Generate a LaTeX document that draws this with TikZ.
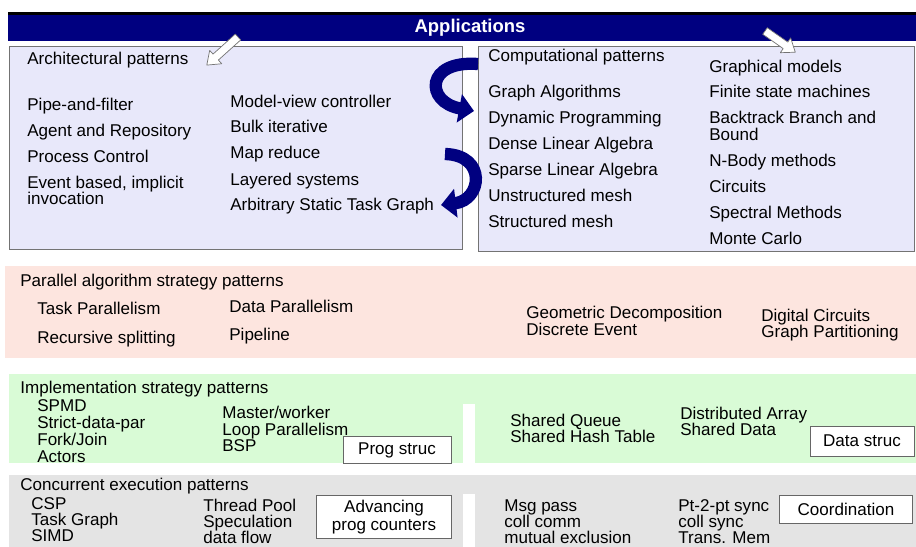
\documentclass[tikz,border=0pt]{standalone}
\usepackage{fontspec}
\setmainfont{Liberation Sans}
\usetikzlibrary{arrows.meta}

\definecolor{navybar}{RGB}{0,0,128}
\definecolor{lavbox}{RGB}{232,232,250}
\definecolor{pinkband}{RGB}{253,229,223}
\definecolor{greenband}{RGB}{217,251,214}
\definecolor{greyband}{RGB}{228,228,228}

\begin{document}
\begin{tikzpicture}
  [x=0.02cm,y=-0.02cm,
   item/.style={anchor=base west,inner sep=0pt,font=\fontsize{9.7}{11}\selectfont},
   tag/.style={draw=black!60,fill=white,inner sep=0pt,align=center,font=\fontsize{9.7}{11}\selectfont},
   panel/.style={draw=black!55,fill=lavbox},
   curl/.style={draw=navybar,line width=7pt,-{Triangle[length=8.5pt,width=16pt]}},
   blockarrow/.style={draw=black!55,fill=white,line join=round}]
  \useasboundingbox (0,0) rectangle (916,547);

  \fill[black] (8,12) rectangle (916,15);
  \fill[navybar] (8,15) rectangle (916,41);
  \node[text=white,font=\bfseries\fontsize{10.5}{12}\selectfont] (app) at (470,28) {Applications};

  \draw[panel] (9,46) rectangle (462,249);
  \draw[panel] (478,46) rectangle (914,251);

  \begin{scope}[shift={(238,37)},rotate=222]
    \draw[blockarrow] (0,-4) -- (30,-4) -- (30,-9) -- (42,0) -- (30,9) -- (30,4) -- (0,4) -- cycle;
  \end{scope}
  \begin{scope}[shift={(765,31)},rotate=-35]
    \draw[blockarrow] (0,-4) -- (25,-4) -- (25,-9) -- (37,0) -- (25,9) -- (25,4) -- (0,4) -- cycle;
  \end{scope}

  \node[item] (arch) at (27,65) {Architectural patterns};
  \node[item] (pf) at (27,111) {Pipe-and-filter};
  \node[item] (ar) at (27,137) {Agent and Repository};
  \node[item] (pc) at (27,163) {Process Control};
  \node[item] (eb) at (27,189) {Event based, implicit};
  \node[item] (ebi) at (27,205) {invocation};
  \node[item] (mvc) at (230,108) {Model-view controller};
  \node[item] (bi) at (230,133) {Bulk iterative};
  \node[item] (mr) at (230,159) {Map reduce};
  \node[item] (ls) at (230,186) {Layered systems};
  \node[item] (ast) at (230,211) {Arbitrary Static Task Graph};

  \node[item] (comp) at (488,62) {Computational patterns};
  \node[item] (ga) at (488,98) {Graph Algorithms};
  \node[item] (dp) at (488,124) {Dynamic Programming};
  \node[item] (dla) at (488,150) {Dense Linear Algebra};
  \node[item] (sla) at (488,176) {Sparse Linear Algebra};
  \node[item] (um) at (488,202) {Unstructured mesh};
  \node[item] (sm) at (488,228) {Structured mesh};
  \node[item] (gm) at (709,73) {Graphical models};
  \node[item] (fsm) at (709,98) {Finite state machines};
  \node[item] (bb) at (709,124) {Backtrack Branch and};
  \node[item] (bbb) at (709,141) {Bound};
  \node[item] (nb) at (709,167) {N-Body methods};
  \node[item] (circ) at (709,193) {Circuits};
  \node[item] (spm) at (709,219) {Spectral Methods};
  \node[item] (mc) at (709,245) {Monte Carlo};

  \coordinate (c1s) at (478,64);
  \coordinate (c1e) at (474,111);
  \coordinate (c2s) at (445,154);
  \coordinate (c2e) at (441,205);
  \draw[curl] (c1s) .. controls (425,60) and (425,102) .. (c1e);
  \draw[curl] (c2s) .. controls (487,155) and (482,200) .. (c2e);

  \fill[pinkband] (5,266) rectangle (916,358);
  \node[item] (pas) at (20,286) {Parallel algorithm strategy patterns};
  \node[item] (tpar) at (37,315) {Task Parallelism};
  \node[item] (rs) at (37,343) {Recursive splitting};
  \node[item] (dpar) at (229,312) {Data Parallelism};
  \node[item] (pipe) at (229,340) {Pipeline};
  \node[item] (gd) at (526,318) {Geometric Decomposition};
  \node[item] (de) at (526,335) {Discrete Event};
  \node[item] (dc) at (761,321) {Digital Circuits};
  \node[item] (gp) at (761,337) {Graph Partitioning};

  \fill[greenband] (9,374) rectangle (916,463);
  \fill[white] (463,404) rectangle (475,463);
  \node[item] (isp) at (20,393) {Implementation strategy patterns};
  \node[item] (spmd) at (37,411) {SPMD};
  \node[item] (sdp) at (37,428) {Strict-data-par};
  \node[item] (fj) at (37,445) {Fork/Join};
  \node[item] (act) at (37,462) {Actors};
  \node[item] (mw) at (222,418) {Master/worker};
  \node[item] (lp) at (222,435) {Loop Parallelism};
  \node[item] (bsp) at (222,451) {BSP};
  \node[tag,minimum width=2.16cm,minimum height=0.54cm] (prog) at (397,450) {Prog struc};
  \node[item] (sq) at (510,426) {Shared Queue};
  \node[item] (sht) at (510,442) {Shared Hash Table};
  \node[item] (da) at (680,419) {Distributed Array};
  \node[item] (sd) at (680,435) {Shared Data};
  \node[tag,minimum width=2.08cm,minimum height=0.6cm] (data) at (862,441) {Data struc};

  \fill[greyband] (9,475) rectangle (916,547);
  \fill[white] (463,494) rectangle (475,547);
  \node[item] (cep) at (20,490) {Concurrent execution patterns};
  \node[item] (csp) at (31,509) {CSP};
  \node[item] (tg) at (31,525) {Task Graph};
  \node[item] (simd) at (31,541) {SIMD};
  \node[item] (tpool) at (203,511) {Thread Pool};
  \node[item] (spec) at (203,527) {Speculation};
  \node[item] (df) at (203,543) {data flow};
  \node[tag,minimum width=2.7cm,minimum height=0.86cm,font=\fontsize{9.7}{10}\selectfont] (adv) at (384,517) {Advancing\\prog counters};
  \node[item] (msg) at (504,511) {Msg pass};
  \node[item] (cc) at (504,527) {coll comm};
  \node[item] (mutex) at (504,543) {mutual exclusion};
  \node[item] (p2p) at (678,511) {Pt-2-pt sync};
  \node[item] (cs) at (678,527) {coll sync};
  \node[item] (tm) at (678,543) {Trans. Mem};
  \node[tag,minimum width=2.66cm,minimum height=0.56cm] (coord) at (846,509) {Coordination};
\end{tikzpicture}
\end{document}
